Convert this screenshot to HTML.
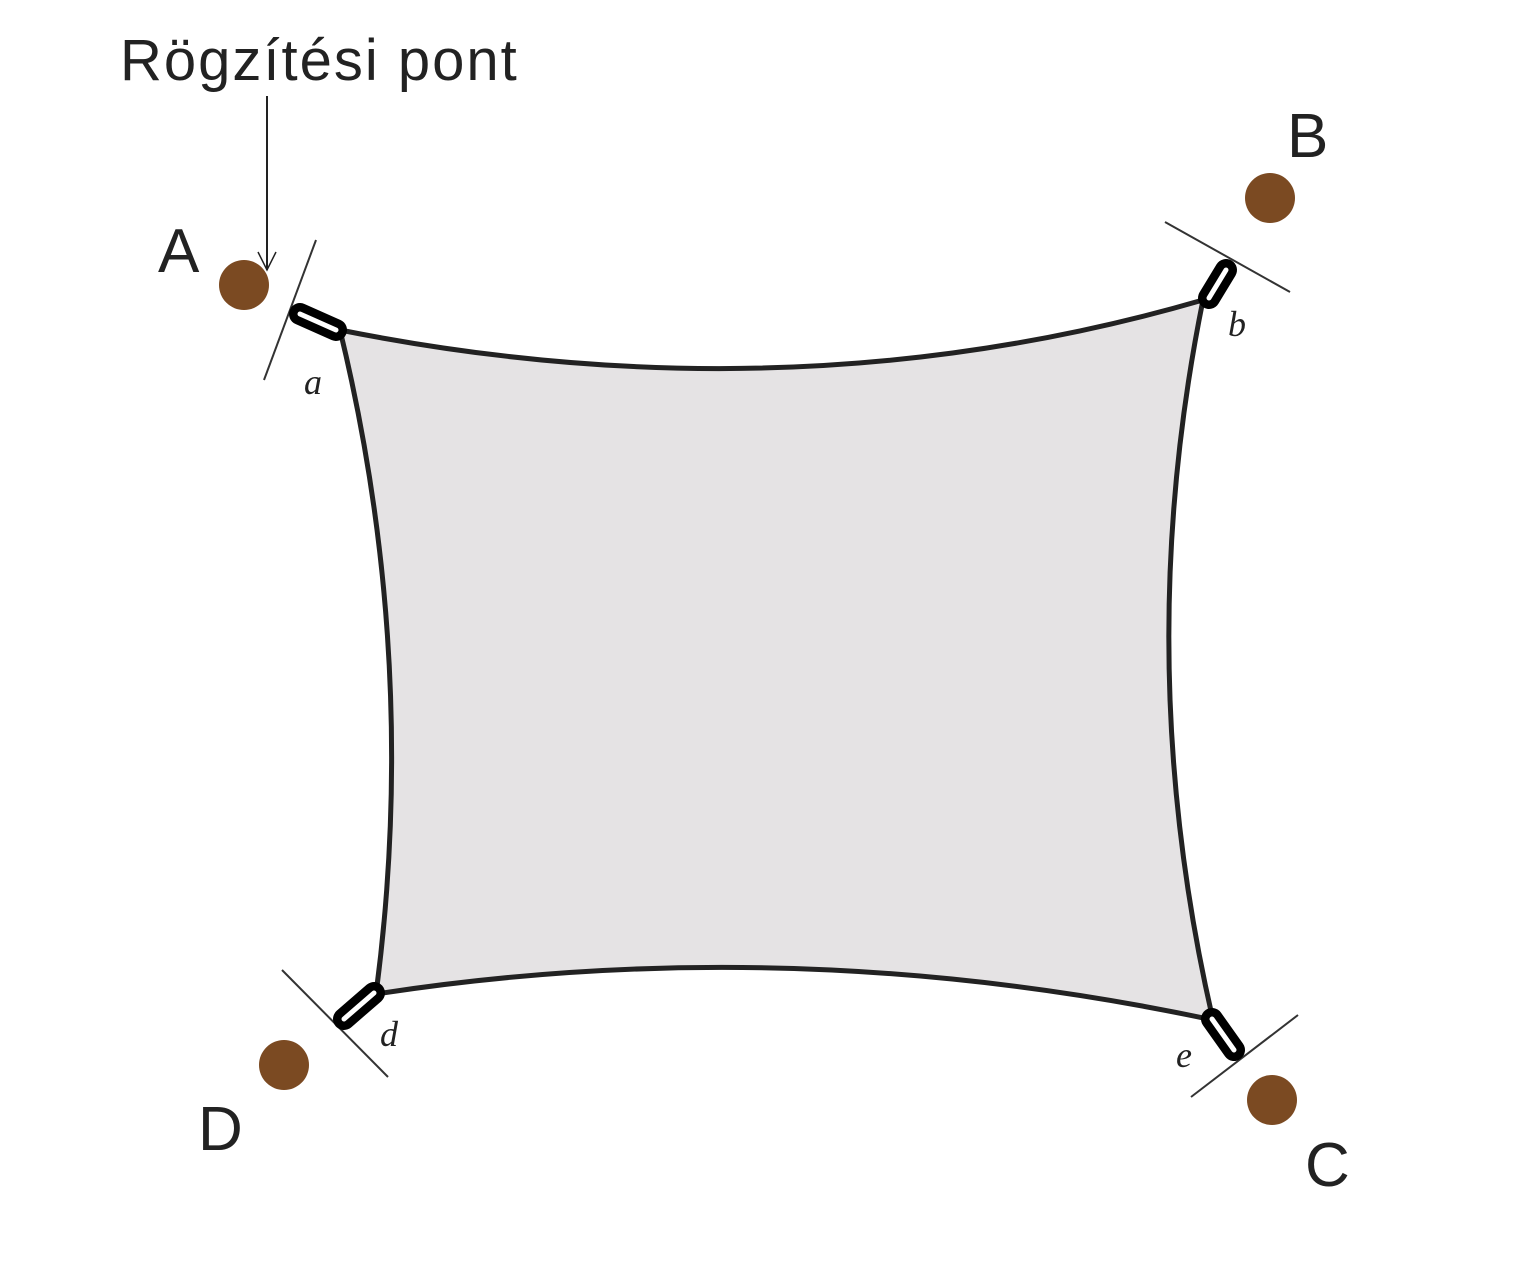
<!DOCTYPE html>
<html><head><meta charset="utf-8"><style>
html,body{margin:0;padding:0;background:#fff}
svg{display:block}
</style></head><body>
<svg width="1516" height="1277" viewBox="0 0 1516 1277" xmlns="http://www.w3.org/2000/svg">
<text x="120" y="80" font-family="Liberation Sans, sans-serif" font-size="58" letter-spacing="2" fill="#222">Rögzítési pont</text>
<line x1="267" y1="96" x2="267" y2="270" stroke="#222" stroke-width="2"/>
<polyline points="258,252 267,270 276,252" fill="none" stroke="#222" stroke-width="1.5"/>

<path d="M340,330 Q790,420 1203,300 Q1130,660 1213,1020 Q790,930 376,994 Q420,660 340,330 Z" fill="#e5e3e4" stroke="#222" stroke-width="5" stroke-linejoin="round"/>

<g stroke="#333" stroke-width="2">
<line x1="264" y1="380" x2="316" y2="240"/>
<line x1="1165" y1="222" x2="1290" y2="292"/>
<line x1="282" y1="970" x2="388" y2="1077"/>
<line x1="1191" y1="1097" x2="1298" y2="1015"/>
</g>

<g stroke-linecap="round">
<line x1="300" y1="314" x2="336" y2="330" stroke="#000" stroke-width="22"/>
<line x1="300" y1="314" x2="336" y2="330" stroke="#fff" stroke-width="5"/>
<line x1="1209" y1="298" x2="1226" y2="270" stroke="#000" stroke-width="22"/>
<line x1="1209" y1="298" x2="1226" y2="270" stroke="#fff" stroke-width="5"/>
<line x1="344" y1="1019" x2="374" y2="993" stroke="#000" stroke-width="22"/>
<line x1="344" y1="1019" x2="374" y2="993" stroke="#fff" stroke-width="5"/>
<line x1="1212" y1="1019" x2="1234" y2="1050" stroke="#000" stroke-width="22"/>
<line x1="1212" y1="1019" x2="1234" y2="1050" stroke="#fff" stroke-width="5"/>
</g>

<g fill="#7b4a22">
<circle cx="244" cy="285" r="25"/>
<circle cx="1270" cy="198" r="25"/>
<circle cx="1272" cy="1100" r="25"/>
<circle cx="284" cy="1065" r="25"/>
</g>

<g font-family="Liberation Sans, sans-serif" font-size="62" fill="#222">
<text x="158" y="272">A</text>
<text x="1287" y="157">B</text>
<text x="1305" y="1186">C</text>
<text x="198" y="1150">D</text>
</g>
<g font-family="Liberation Serif, serif" font-style="italic" font-size="36" fill="#222">
<text x="304" y="394">a</text>
<text x="1228" y="336">b</text>
<text x="380" y="1046">d</text>
<text x="1176" y="1067">e</text>
</g>
</svg>
</body></html>
